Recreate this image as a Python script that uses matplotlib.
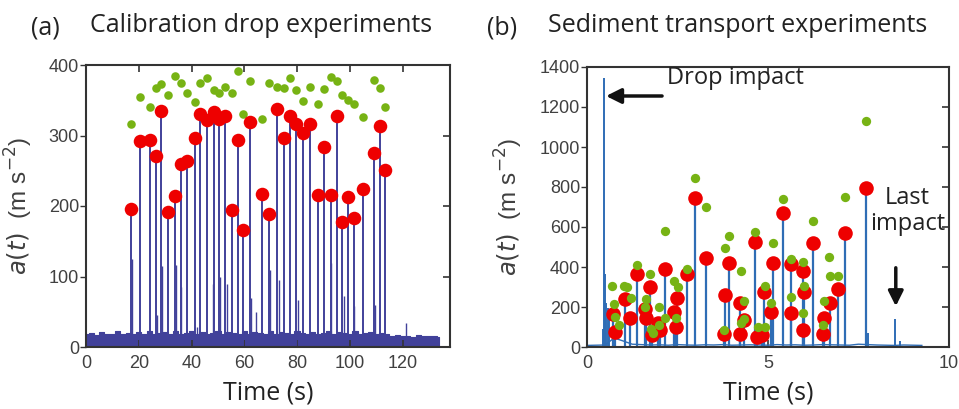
import matplotlib
matplotlib.use("Agg")
import matplotlib.pyplot as plt
import numpy as np

# ---- (a) calibration drops: peak (red) and predicted (green) values
cal_t = [16.9, 20.6, 24.1, 26.4, 28.5, 31.2, 33.8, 36.0, 38.4, 41.3, 43.4, 45.8, 48.4,
         50.5, 52.8, 55.2, 57.6, 59.7, 62.0, 66.7, 69.2, 72.3, 75.0, 77.4, 79.7, 82.3,
         85.1, 87.8, 90.3, 92.7, 95.0, 97.2, 99.2, 101.5, 104.9, 109.1, 111.4, 113.5]
cal_peak = [196, 292, 293, 271, 335, 191, 214, 260, 264, 296, 330, 322, 334,
            324, 328, 195, 293, 166, 319, 217, 189, 338, 296, 328, 316, 303,
            317, 215, 283, 215, 328, 177, 213, 183, 224, 275, 314, 251]
cal_green = [317, 355, 341, 368, 373, 358, 385, 374, 360, 347, 375, 381, 364,
             360, 369, 360, 391, 330, 378, 323, 375, 369, 368, 382, 364, 349,
             369, 345, 366, 383, 377, 357, 350, 345, 326, 379, 367, 340]
# smaller rebound spikes
cal_sec_t = [17.5, 26.8, 29.0, 34.1, 36.2, 42.2, 48.2, 50.8, 53.3, 62.5, 64.4, 69.7,
             73.1, 80.2, 92.7, 97.7, 101.6, 109.5, 121.2]
cal_sec_a = [125, 45, 115, 116, 85, 29, 90, 100, 90, 70, 49, 109,
             95, 67, 119, 73, 58, 60, 34]
# noise floor, every 2 s
cal_noise_t = np.arange(0, 136, 2)
cal_noise = [18, 20, 17, 21, 19, 18, 22, 19, 20, 18, 21, 19, 22, 18, 20, 21, 19, 23,
             18, 20, 22, 19, 21, 18, 20, 22, 19, 21, 20, 18, 22, 19, 21, 20, 18, 22,
             19, 21, 20, 18, 22, 20, 19, 21, 18, 20, 22, 19, 21, 20, 19, 22, 18, 20,
             21, 19, 20, 18, 16, 17, 15, 16, 14, 17, 15, 16, 15, 14]

# ---- (b) sediment transport: impact peaks (red) and predictions (green)
sed_t = [0.73, 0.77, 1.05, 1.19, 1.38, 1.61, 1.62, 1.75, 1.79, 1.95, 2.02, 2.16,
         2.39, 2.47, 2.48, 2.76, 2.99, 3.29, 3.78, 3.80, 3.93, 4.24, 4.24, 4.33,
         4.65, 4.70, 4.84, 4.88, 5.09, 5.14, 5.42, 5.64, 5.64, 5.98, 6.00, 5.98,
         6.25, 6.53, 6.55, 6.70, 6.92, 7.13, 7.70]
sed_peak = [165, 75, 238, 143, 365, 190, 143, 298, 60, 120, 85, 390,
            175, 102, 245, 365, 743, 443, 66, 262, 420, 222, 66, 137,
            527, 50, 62, 275, 175, 420, 668, 413, 168, 380, 273, 85,
            518, 63, 147, 218, 290, 572, 797]
sed_green_t = [0.70, 0.75, 0.78, 0.89, 1.03, 1.10, 1.21, 1.38, 1.59, 1.64, 1.75, 1.76,
               1.82, 1.98, 2.00, 2.16, 2.16, 2.39, 2.50, 2.46, 2.76, 2.99, 3.29, 3.80,
               3.93, 3.78, 4.26, 4.33, 4.33, 4.26, 4.65, 4.72, 4.91, 4.93, 5.09, 5.14,
               5.42, 5.64, 5.64, 5.98, 6.00, 5.98, 6.25, 6.69, 6.72, 6.92, 6.55, 6.53,
               7.13, 7.70]
sed_green = [305, 215, 152, 108, 305, 298, 243, 410, 202, 240, 365, 88,
             72, 198, 110, 582, 147, 330, 302, 147, 390, 843, 702, 493,
             555, 85, 382, 232, 138, 122, 573, 98, 307, 98, 222, 518,
             738, 440, 252, 427, 305, 172, 628, 452, 355, 355, 232, 110,
             752, 1132]
sed_sec_t = [0.47, 0.50, 0.53, 0.57, 0.62, 0.44, 7.75, 8.50, 8.65]
sed_sec_a = [1343, 365, 220, 195, 150, 90, 72, 138, 30]
# background signal, every 0.25 s
sed_base_t = np.arange(0, 9.3, 0.25)
sed_base = [8, 9, 10, 45, 30, 14, 12, 10, 11, 9, 12, 10, 9, 11, 10, 12, 9, 10,
            11, 10, 9, 12, 10, 11, 9, 10, 12, 11, 10, 9, 14, 12, 10, 9, 8, 10, 9, 8]

TICK_C = "#404040"
SPINE_C = "#333333"
TXT_FONT = ["Open Sans", "DejaVu Sans"]
NUM_FONT = ["Liberation Sans", "DejaVu Sans"]

fig = plt.figure(figsize=(9.59, 4.09), dpi=100)


def style_axes(ax, xlim, ylim, xticks, yticks):
    ax.set_xlim(*xlim)
    ax.set_ylim(*ylim)
    ax.set_xticks(xticks)
    ax.set_yticks(yticks)
    for sp in ax.spines.values():
        sp.set_color(SPINE_C)
        sp.set_linewidth(1.5)
    ax.tick_params(axis="y", direction="out", length=4, width=1, colors=SPINE_C,
                   labelcolor=TICK_C, labelsize=13, pad=1)
    ax.tick_params(axis="x", direction="in", length=5, width=1.2, colors=SPINE_C,
                   top=True, labelcolor=TICK_C, labelsize=13, pad=6)
    for lab in ax.get_xticklabels() + ax.get_yticklabels():
        lab.set_fontfamily(NUM_FONT)
    # right-hand ticks point inwards, left ones outwards
    tw = ax.twinx()
    tw.set_ylim(*ylim)
    tw.set_yticks(yticks)
    tw.tick_params(direction="in", length=5, width=1.2, colors=SPINE_C, labelright=False)
    for sp in tw.spines.values():
        sp.set_visible(False)
    ax.set_xlabel("Time (s)", fontsize=18, family=TXT_FONT, color="#222222")
    ax.xaxis.set_label_coords(0.5, -0.12)


# ---------------- panel (a)
ax1 = fig.add_axes([86 / 959, 62 / 409, 364 / 959, 282 / 409])
blue1 = "#41419A"
ax1.fill_between(cal_noise_t, 0, cal_noise, color=blue1, lw=0.8, step="mid")
ax1.vlines(cal_t, 0, cal_peak, color=blue1, lw=1.4)
ax1.vlines(cal_sec_t, 0, cal_sec_a, color=blue1, lw=1.0)
ax1.scatter(cal_t, cal_green, s=38, color="#77B314", zorder=3, lw=0)
ax1.scatter(cal_t, cal_peak, s=95, color="#EE0000", zorder=4, lw=0)
ax1.set_ylabel(r"$a(t)$  (m s$^{-2}$)", fontsize=17.5, color=TICK_C, family=NUM_FONT)
ax1.yaxis.set_label_coords(-0.14, 0.5)
style_axes(ax1, (0, 138), (0, 400), [0, 20, 40, 60, 80, 100, 120], [0, 100, 200, 300, 400])

# ---------------- panel (b)
ax2 = fig.add_axes([587 / 959, 62 / 409, 362 / 959, 280 / 409])
blue2 = "#2F6DB5"
ax2.plot(sed_base_t, sed_base, color=blue2, lw=1.0)
ax2.vlines(sed_t, 0, sed_peak, color=blue2, lw=1.6)
ax2.vlines(sed_sec_t, 0, sed_sec_a, color=blue2, lw=1.4)
ax2.scatter(sed_t, sed_peak, s=110, color="#EE0000", zorder=3, lw=0)
ax2.scatter(sed_green_t, sed_green, s=45, color="#77B314", zorder=4, lw=0)
ax2.set_ylabel(r"$a(t)$  (m s$^{-2}$)", fontsize=17.5, color=TICK_C, family=NUM_FONT)
ax2.yaxis.set_label_coords(-0.17, 0.5)

ax2.annotate("", xy=(0.45, 1255), xytext=(2.15, 1255),
             arrowprops=dict(arrowstyle="-|>,head_length=0.9,head_width=0.45",
                             color="#111111", lw=2.5))
ax2.text(2.2, 1345, "Drop impact", fontsize=17, family=TXT_FONT, va="center",
         ha="left", color="#222222")
ax2.text(8.85, 680, "Last\nimpact", fontsize=17, family=TXT_FONT, va="center",
         ha="center", color="#222222", linespacing=1.1)
ax2.annotate("", xy=(8.53, 190), xytext=(8.53, 410),
             arrowprops=dict(arrowstyle="-|>,head_length=0.9,head_width=0.45",
                             color="#111111", lw=2.5))
style_axes(ax2, (0, 10), (0, 1400), [0, 5, 10], list(range(0, 1401, 200)))

# ---------------- titles
fig.text(45 / 959, 1 - 28 / 409, "(a)", fontsize=18, family=TXT_FONT, ha="center",
         va="center", color="#222222")
fig.text(261 / 959, 1 - 26 / 409, "Calibration drop experiments", fontsize=18,
         family=TXT_FONT, ha="center", va="center", color="#222222")
fig.text(502 / 959, 1 - 28 / 409, "(b)", fontsize=18, family=TXT_FONT, ha="center",
         va="center", color="#222222")
fig.text(738 / 959, 1 - 26 / 409, "Sediment transport experiments", fontsize=18,
         family=TXT_FONT, ha="center", va="center", color="#222222")

fig.savefig("out.png", dpi=100)
